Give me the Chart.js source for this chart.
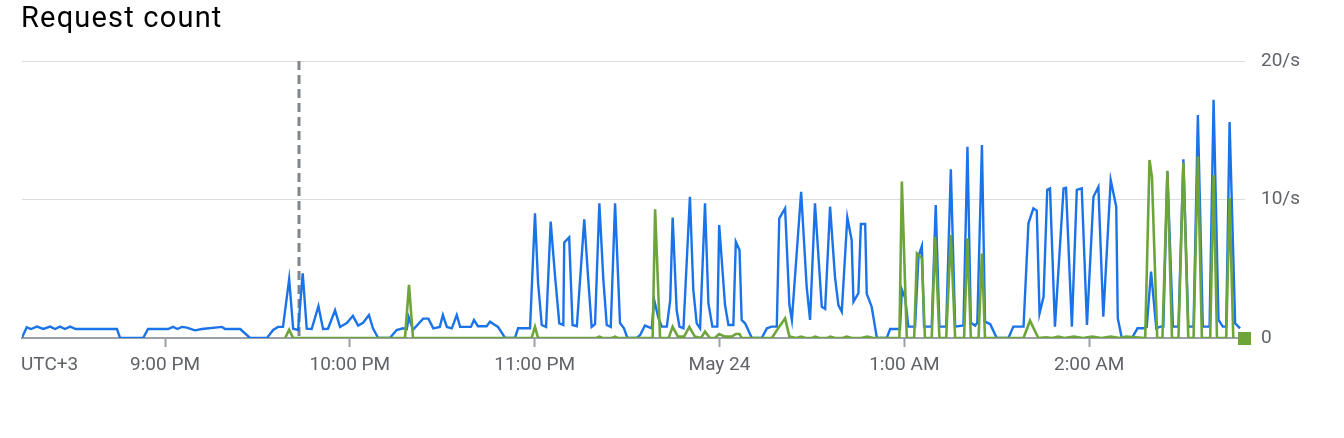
<!DOCTYPE html>
<html>
<head>
<meta charset="utf-8">
<title>Request count</title>
<script src="https://cdn.jsdelivr.net/npm/chart.js@4.4.1/dist/chart.umd.min.js"></script>
<style>
  html, body { margin: 0; padding: 0; background: #fff; }
  #wrap { position: relative; width: 1344px; height: 438px; overflow: hidden; }
  #title { position: absolute; left: 21px; top: 0px; font: 29px Roboto, sans-serif; letter-spacing: 1.2px; color: #000; white-space: nowrap; }
  canvas { position: absolute; left: 0; top: 0; }
</style>
</head>
<body>
<div id="wrap">
  <canvas id="chart" width="1344" height="438"></canvas>
  <div id="title">Request count</div>
</div>
<script>
// Tempo em minutos desde 20:00 (UTC+3), valores em requisições por segundo
const blueTimes = [
  13.5, 15.1, 16.5, 18.4, 20.5, 22.7, 24.3, 25.9, 27.5, 29.2,
  31, 44.4, 45.4, 52.9, 54.5, 61, 62.6, 64, 65.5, 67.1,
  69.7, 72, 78.5, 79.5, 84.4, 87.6, 93.1, 95.1, 96.7, 98.3,
  100.3, 101.6, 103.2, 104.7, 106.0, 107.6, 109.8, 111.3, 112.9, 115.2,
  116.8, 119.0, 121.0, 122.7, 124.3, 126.2, 127.5, 129.2, 133.0, 135.2,
  137.3, 138.5, 139.1, 140.5, 143.8, 145.5, 147.1, 149.2, 150.2, 151.5,
  153.1, 154.7, 155.8, 159.3, 160.3, 161.6, 164.4, 165.5, 167.1, 168.1,
  170.4, 173.6, 174.6, 178.5, 180.1, 181.1, 182.3, 183.7, 185.2, 186.6,
  188.0, 189.3, 189.6, 191.2, 192.3, 193.7, 196.1, 197.4, 198.5, 199.6,
  201.0, 202.3, 203.4, 204.7, 206.1, 207.7, 209.0, 210.1, 213.1, 214.2,
  215.8, 218.0, 218.8, 220.2, 221.3, 222.9, 224.0, 224.8, 226.1, 227.0,
  228.3, 230.4, 231.5, 232.6, 233.7, 235.3, 236.4, 237.7, 239.3, 239.9,
  241.8, 242.9, 244.5, 245.3, 246.5, 247.2, 248.3, 250.5, 253.7, 255.4,
  256.9, 258.6, 259.4, 261.3, 262.7, 263.5, 266.5, 268.3, 269.4, 271.0,
  273.2, 274.3, 275.9, 277.5, 278.6, 279.7, 281.5, 282.9, 283.5, 285.1,
  285.9, 287.3, 287.8, 289.4, 291.1, 294.3, 295.4, 298.6, 299.2, 300.3,
  301.3, 303.5, 304.6, 305.7, 306.4, 308.9, 310.2, 311.4, 313.6, 315.1,
  316.5, 319.2, 320.5, 321.6, 323.0, 323.7, 325.2, 326.2, 327.9, 330.0,
  333.8, 335.4, 338.7, 340.3, 341.9, 343.0, 343.9, 345.2, 346.4, 347.3,
  348.9, 351.7, 352.5, 354.4, 356.0, 357.6, 359.3, 361.4, 363.0, 364.6,
  367.0, 368.8, 369.3, 370.6, 373.9, 375.7, 377.6, 378.7, 380.1, 381.8,
  383.1, 384.1, 385.4, 387.2, 389.0, 390.6, 392.2, 393.9, 395.3, 396.9,
  399.1, 400.4, 402.0, 403.4, 404.5, 405.6, 407.4, 409.0
]
const blueRates = [
  0, 0.77, 0.65, 0.82, 0.65, 0.82, 0.65, 0.82, 0.65, 0.82,
  0.65, 0.65, 0, 0, 0.65, 0.65, 0.8, 0.65, 0.8, 0.75,
  0.55, 0.65, 0.8, 0.65, 0.65, 0, 0, 0.58, 0.8, 0.8,
  4.26, 0.67, 0.58, 4.67, 0.67, 0.65, 2.3, 0.65, 0.67, 2.0,
  0.8, 1.08, 1.6, 0.9, 1.1, 1.66, 0.7, 0, 0, 0.58,
  0.7, 0.65, 1.5, 0.6, 1.4, 1.4, 0.7, 0.8, 1.66, 0.8,
  0.7, 1.66, 0.8, 0.8, 1.3, 0.85, 0.85, 1.18, 0.94, 0.8,
  0, 0, 0.7, 0.7, 9.0, 4.0, 0.94, 0.8, 8.4, 4.5,
  1.06, 0.94, 6.9, 7.27, 0.94, 0.85, 8.57, 4.2, 0.8, 1.0,
  9.72, 4.2, 0.94, 0.8, 9.72, 1.08, 0.7, 0, 0, 0.2,
  0.9, 0.7, 2.74, 1.42, 0.82, 0.82, 2.74, 8.7, 2.0, 0.82,
  0.7, 10.2, 3.47, 1.06, 0.7, 9.72, 2.5, 0.82, 0.82, 8.16,
  2.38, 0.94, 0.94, 6.95, 6.35, 1.3, 1.06, 0, 0, 0.7,
  0.82, 0.82, 8.64, 9.36, 2.38, 1.3, 10.56, 3.7, 1.3, 9.72,
  2.26, 2.1, 9.48, 4.4, 2.38, 1.9, 8.7, 7.08, 2.62, 3.23,
  8.23, 8.23, 3.2, 2.26, 0, 0, 0.65, 0.65, 3.5, 2.86,
  0.82, 0.82, 5.9, 6.64, 0.82, 0.82, 9.6, 0.82, 0.82, 12.18,
  0.82, 0.9, 13.8, 1.1, 0.9, 1.1, 13.94, 1.18, 1.0, 0,
  0, 0.82, 0.82, 8.28, 9.36, 9.2, 1.78, 2.98, 10.7, 10.8,
  0.82, 10.8, 10.85, 0.82, 10.7, 10.8, 0.94, 10.2, 10.9, 1.54,
  11.4, 9.48, 1.42, 0, 0, 0.7, 0.7, 0.8, 4.8, 0.7,
  0.82, 0.82, 12.0, 0.82, 0.82, 12.9, 0.82, 0.82, 16.1, 0.82,
  0.82, 17.2, 1.3, 0.82, 0.82, 15.6, 1.06, 0.7
]

const greenTimes = [
  99, 100.3, 101.6, 137.9, 139.2, 140.5, 179, 180.1, 181.1, 200,
  201, 202, 205, 206.1, 207, 218.3, 219.1, 220.7, 223.5, 224.8,
  226.5, 228.5, 230.2, 232, 234, 235.3, 236.9, 238.5, 239.9, 241.8,
  244, 245.3, 246.5, 247.2, 257, 259.4, 261.3, 262.7, 265, 266.5,
  268, 270, 271, 272.5, 275, 276, 277.5, 280, 281.3, 283,
  286, 288, 290, 298.4, 299.2, 300.8, 303.2, 304.1, 305.7, 306.7,
  308.9, 310.0, 311.4, 313.6, 315.1, 316.5, 319.4, 320.5, 321.6, 324.1,
  325.2, 326.2, 338.7, 340.8, 343.5, 346, 348, 350, 352, 355,
  358, 361, 364, 367, 370, 372, 378.2, 379.6, 380.4, 382.1,
  383.8, 385.4, 386.9, 389.0, 390.6, 392.2, 393.9, 395.3, 396.6, 399.3,
  400.4, 401.5, 404.5, 405.6, 406.8
]
const greenRates = [
  0, 0.6, 0, 0, 3.83, 0, 0, 0.82, 0, 0,
  0.1, 0, 0, 0.1, 0, 0, 9.3, 0, 0, 0.82,
  0.1, 0.1, 0.8, 0.1, 0, 0.46, 0, 0, 0.29, 0.1,
  0.1, 0.29, 0.29, 0, 0, 0.82, 1.42, 0.1, 0, 0.1,
  0, 0, 0.1, 0, 0, 0.1, 0, 0, 0.1, 0,
  0, 0.1, 0, 0, 11.3, 0, 0, 6.1, 5.75, 0,
  0, 7.3, 0, 0, 7.44, 0, 0, 7.2, 0, 0,
  6.1, 0, 0, 1.25, 0, 0.05, 0, 0.1, 0, 0.1,
  0, 0.1, 0, 0.1, 0, 0.1, 0, 12.85, 11.6, 0,
  0, 12.08, 0, 0, 12.66, 0, 0, 13.1, 0, 0,
  11.77, 0, 0, 10.1, 0
]

// Rótulos do eixo de tempo (minutos desde 20:00)
const hourTicks = [60, 120, 180, 240, 300, 360]
const hourLabels = ['9:00 PM', '10:00 PM', '11:00 PM', 'May 24', '1:00 AM', '2:00 AM']
const zoneLabel = 'UTC+3'
const markerTime = 103.5
const rateTicks = [0, 10, 20]

const BLUE = '#1a73e8'
const GREEN = '#6ea53a'
const GREY_TEXT = '#5f6368'
const TICK_FONT = { family: 'Roboto', size: 19 }
const X_TICK_LEN = 9
const X_TICK_PAD = 7

const toPoints = (times, rates) => times.map((t, i) => ({ x: t, y: rates[i] }))

// Plugin para linha tracejada, marcador do último valor e rótulo do fuso
const extras = {
  id: 'extras',
  beforeDatasetsDraw(chart) {
    const { ctx, chartArea, scales } = chart
    const x = scales.x.getPixelForValue(markerTime)
    ctx.save()
    ctx.strokeStyle = '#80868b'
    ctx.lineWidth = 3
    ctx.setLineDash([9, 5])
    ctx.beginPath()
    ctx.moveTo(x, chartArea.top)
    ctx.lineTo(x, chartArea.bottom)
    ctx.stroke()
    ctx.restore()
  },
  afterDatasetsDraw(chart) {
    const { ctx, chartArea, scales } = chart
    const last = greenRates[greenRates.length - 1]
    const y = scales.y.getPixelForValue(last)
    ctx.save()
    ctx.fillStyle = GREEN
    ctx.fillRect(chartArea.right - 7, y - 6, 13, 13)
    ctx.restore()
  },
  afterDraw(chart) {
    const { ctx, chartArea, scales } = chart
    const lineHeight = TICK_FONT.size * 1.2
    const y = scales.x.top + X_TICK_LEN + X_TICK_PAD + lineHeight / 2
    ctx.save()
    ctx.font = `${TICK_FONT.size}px ${TICK_FONT.family}`
    ctx.fillStyle = GREY_TEXT
    ctx.textAlign = 'left'
    ctx.textBaseline = 'middle'
    ctx.fillText(zoneLabel, chartArea.left - 1, y)
    ctx.restore()
  }
}

new Chart(document.getElementById('chart'), {
  type: 'line',
  data: {
    datasets: [
      {
        label: 'green',
        data: toPoints(greenTimes, greenRates),
        borderColor: GREEN,
        borderWidth: 2.6,
        pointRadius: 0,
        tension: 0,
        order: 0
      },
      {
        label: 'blue',
        data: toPoints(blueTimes, blueRates),
        borderColor: BLUE,
        borderWidth: 2.4,
        pointRadius: 0,
        tension: 0,
        order: 1
      }
    ]
  },
  options: {
    responsive: false,
    animation: false,
    layout: { padding: { top: 61, left: 22, right: 0, bottom: 0 } },
    plugins: {
      legend: { display: false },
      tooltip: { enabled: false }
    },
    scales: {
      x: {
        type: 'linear',
        min: 13.57,
        max: 410.6,
        afterFit: (scale) => { scale.height = 100 },
        afterBuildTicks: (scale) => { scale.ticks = hourTicks.map(v => ({ value: v })) },
        ticks: {
          autoSkip: false,
          maxRotation: 0,
          padding: X_TICK_PAD,
          color: GREY_TEXT,
          font: TICK_FONT,
          callback: (value) => hourLabels[hourTicks.indexOf(value)]
        },
        grid: {
          drawOnChartArea: false,
          drawTicks: true,
          tickLength: X_TICK_LEN,
          tickColor: '#9aa0a6',
          tickWidth: 2
        },
        border: { display: true, color: '#9aa0a6', width: 2 }
      },
      y: {
        position: 'right',
        min: 0,
        max: 20,
        afterFit: (scale) => { scale.width = 99 },
        afterBuildTicks: (scale) => { scale.ticks = rateTicks.map(v => ({ value: v })) },
        ticks: {
          padding: 16,
          color: GREY_TEXT,
          font: TICK_FONT,
          callback: (value) => value === 0 ? '0' : value + '/s'
        },
        grid: {
          drawTicks: false,
          color: (ctx) => ctx.tick && ctx.tick.value === 0 ? 'rgba(0,0,0,0)' : '#dadce0',
          lineWidth: 1
        },
        border: { display: false }
      }
    }
  },
  plugins: [extras]
})
</script>
</body>
</html>
